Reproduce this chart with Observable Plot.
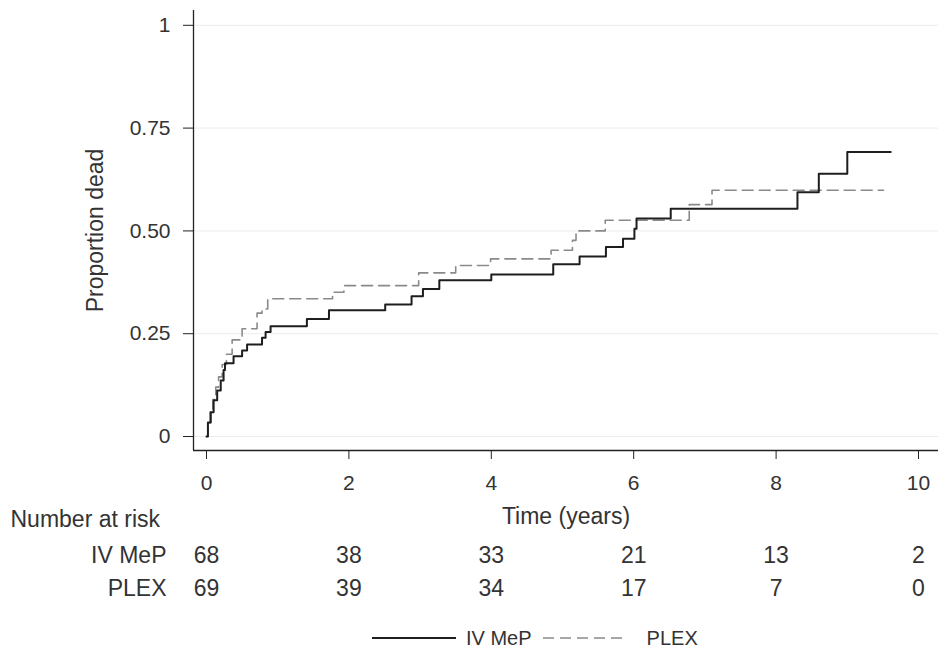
<!DOCTYPE html>
<html>
<head>
<meta charset="utf-8">
<script src="https://cdn.jsdelivr.net/npm/d3@7"></script>
<script src="https://cdn.jsdelivr.net/npm/@observablehq/plot@0.6"></script>
<style>
  body { margin: 0; background: #fff; font-family: "Liberation Sans", Arial, sans-serif; }
  #chart { position: relative; width: 952px; height: 655px; background: #fff; }
  .legend { position: absolute; top: 622px; left: 372px; display: flex; align-items: center; font-size: 20px; color: #333; height: 32px; }
  .legend svg { display: block; }
  .legend span.a { margin-left: 10px; margin-right: 11px; }
  .legend span.b { margin-left: 20px; }
</style>
</head>
<body>
<div id="chart"></div>
<script>
// Kaplan–Meier cumulative mortality, step points (time in years, proportion dead)
const ivTime = [0, 0.02, 0.06, 0.10, 0.15, 0.20, 0.24, 0.26, 0.38, 0.50, 0.57, 0.78, 0.83, 0.90, 1.41, 1.72, 2.51, 2.88, 3.04, 3.27, 4.00, 4.87, 5.24, 5.61, 5.85, 6.01, 6.04, 6.52, 8.30, 8.60, 9.00, 9.61];
const ivDead = [0, 0.034, 0.059, 0.088, 0.112, 0.136, 0.162, 0.178, 0.195, 0.209, 0.224, 0.240, 0.254, 0.268, 0.286, 0.307, 0.321, 0.341, 0.359, 0.380, 0.394, 0.419, 0.438, 0.461, 0.481, 0.505, 0.530, 0.554, 0.594, 0.639, 0.692, 0.692];

const plexTime = [0, 0.02, 0.05, 0.09, 0.13, 0.17, 0.22, 0.28, 0.36, 0.50, 0.71, 0.78, 0.86, 1.77, 1.93, 2.98, 3.50, 3.99, 4.84, 5.14, 5.19, 5.60, 6.78, 7.10, 9.51];
const plexDead = [0, 0.03, 0.06, 0.09, 0.12, 0.145, 0.175, 0.20, 0.235, 0.262, 0.30, 0.31, 0.335, 0.351, 0.367, 0.398, 0.416, 0.432, 0.453, 0.477, 0.50, 0.526, 0.564, 0.599, 0.599];

// Axis ticks and labels
const xTicks = [0, 2, 4, 6, 8, 10];
const yTicks = [0, 0.25, 0.5, 0.75, 1];
const yTickLabels = ["0", "0.25", "0.50", "0.75", "1"];
const xLabel = "Time (years)";
const yLabel = "Proportion dead";

// Number at risk table
const riskTitle = "Number at risk";
const riskTimes = [0, 2, 4, 6, 8, 10];
const riskIV = [68, 38, 33, 21, 13, 2];
const riskPLEX = [69, 39, 34, 17, 7, 0];
const groupNames = ["IV MeP", "PLEX"];

const ivData = ivTime.map((t, i) => ({time: t, dead: ivDead[i]}));
const plexData = plexTime.map((t, i) => ({time: t, dead: plexDead[i]}));

const xDomain = [-0.1826, 10.281];
const yDomain = [-0.034, 1.036];
const ink = "#222";
const textInk = "#333";
const solidColor = "#1e1e1e";
const dashColor = "#8a8a8a";
const dash = "11,6";
const bigText = 23;

const plot = Plot.plot({
  width: 952,
  height: 618,
  marginLeft: 193,
  marginRight: 14,
  marginTop: 10,
  marginBottom: 168,
  style: {fontFamily: "'Liberation Sans', Arial, sans-serif", fontSize: "21px", color: ink, background: "#fff"},
  x: {domain: xDomain},
  y: {domain: yDomain},
  marks: [
    Plot.gridY(yTicks, {stroke: "#ececec", strokeOpacity: 1}),
    Plot.line(plexData, {x: "time", y: "dead", curve: "step-after", stroke: dashColor, strokeWidth: 1.6, strokeDasharray: dash}),
    Plot.line(ivData, {x: "time", y: "dead", curve: "step-after", stroke: solidColor, strokeWidth: 2}),
    Plot.ruleX([xDomain[0]], {stroke: ink, strokeWidth: 1.3}),
    Plot.ruleY([yDomain[0]], {stroke: ink, strokeWidth: 1.3}),
    Plot.axisY(yTicks, {tickSize: 10, tickPadding: 13, stroke: ink, tickFormat: d => yTickLabels[yTicks.indexOf(d)], label: null, fill: textInk}),
    Plot.axisX(xTicks, {tickSize: 9, tickPadding: 16, stroke: ink, tickFormat: d => String(d), label: null, fill: textInk}),
    Plot.text([xLabel], {frameAnchor: "bottom", dy: 73, textAnchor: "middle", fontSize: bigText, text: d => d, fill: textInk}),
    Plot.text([yLabel], {frameAnchor: "left", dx: -98, rotate: -90, textAnchor: "middle", fontSize: bigText, text: d => d, fill: textInk}),
    // risk table
    Plot.text([riskTitle], {frameAnchor: "bottom-left", dx: -183, dy: 76, textAnchor: "start", fontSize: bigText, text: d => d, fill: textInk}),
    Plot.text([groupNames[0]], {frameAnchor: "bottom-left", dx: -27, dy: 112, textAnchor: "end", fontSize: bigText, text: d => d, fill: textInk}),
    Plot.text([groupNames[1]], {frameAnchor: "bottom-left", dx: -27, dy: 145, textAnchor: "end", fontSize: bigText, text: d => d, fill: textInk}),
    Plot.text(riskTimes, {x: d => d, frameAnchor: "bottom", dy: 112, textAnchor: "middle", fontSize: bigText, text: (d, i) => String(riskIV[i]), fill: textInk}),
    Plot.text(riskTimes, {x: d => d, frameAnchor: "bottom", dy: 145, textAnchor: "middle", fontSize: bigText, text: (d, i) => String(riskPLEX[i]), fill: textInk})
  ]
});

const chart = document.getElementById("chart");
chart.appendChild(plot);

// legend below the plot
const legend = document.createElement("div");
legend.className = "legend";
legend.innerHTML =
  `<svg width="84" height="12"><line x1="0" x2="84" y1="6" y2="6" stroke="${solidColor}" stroke-width="2"/></svg><span class="a">${groupNames[0]}</span>` +
  `<svg width="84" height="12"><line x1="0" x2="84" y1="6" y2="6" stroke="${dashColor}" stroke-width="1.6" stroke-dasharray="${dash}"/></svg><span class="b">${groupNames[1]}</span>`;
chart.appendChild(legend);
</script>
</body>
</html>
